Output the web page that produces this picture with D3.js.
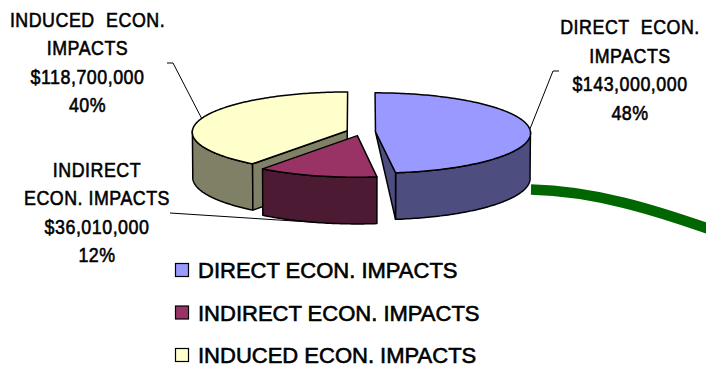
<!DOCTYPE html>
<html>
<head>
<meta charset="utf-8">
<script src="https://cdn.jsdelivr.net/npm/d3@7"></script>
<style>
  body { margin: 0; background: #fff; }
  svg { display: block; }
</style>
</head>
<body>
<svg id="chart" width="706" height="367"></svg>
<script>
// ---- data ----
const categories = ["DIRECT ECON. IMPACTS", "INDIRECT ECON. IMPACTS", "INDUCED ECON. IMPACTS"];
const values = [143000000, 36010000, 118700000];
const labelLines = [["DIRECT ECON.", "IMPACTS"], ["INDIRECT", "ECON. IMPACTS"], ["INDUCED ECON.", "IMPACTS"]];

// ---- styles ----
const topColors = ["#9999FF", "#993366", "#FFFFCC"];
const sideColors = ["#4D4D80", "#4D1A33", "#808066"];
const FONT = "'Liberation Sans', Arial, Helvetica, sans-serif";

// label boxes: centre x, first baseline, leader path from the text towards the pie
const labelLayout = [
  { x: 630, y: 34.5, wordGap: 7, leader: [[559, 71], [553, 71]], attach: "top" },
  { x: 97,  y: 177,  wordGap: 0, leader: [[170, 213]],           attach: "bottom" },
  { x: 87.5, y: 27,  wordGap: 7, leader: [[167, 63], [173, 63]], attach: "top" }
];

const svg = d3.select("#chart");

// ---- 3D pie geometry ----
const R = 155, H = 47, EXPLODE = 14.5;
const tilt = 15 * Math.PI / 180;
const DIST = 5000;
const ox = 361, oy = 132;

function project(X, Y, Z) {
  const yc = Y * Math.cos(tilt) + Z * Math.sin(tilt);
  const zc = Z * Math.cos(tilt) - Y * Math.sin(tilt);
  const k = DIST / (DIST + zc);
  return [ox + X * k, oy - yc * k];
}

const pie = d3.pie().sort(null).value(d => d);
const arcs = pie(values);

const slices = arcs.map((a, i) => {
  const mid = (a.startAngle + a.endAngle) / 2;
  return { i, a0: a.startAngle, a1: a.endAngle, mid,
           ex: EXPLODE * Math.sin(mid), ez: EXPLODE * Math.cos(mid) };
});

function pt(s, r, th, y) {
  return project(s.ex + r * Math.sin(th), y, s.ez + r * Math.cos(th));
}
function rim(s, from, to, y) {
  const n = Math.max(2, Math.ceil(Math.abs(to - from) / (Math.PI / 180)));
  return d3.range(n + 1).map(k => pt(s, R, from + (to - from) * k / n, y));
}

const line = d3.line();
const poly = p => line(p) + "Z";

// ---- leader lines (drawn beneath the pie) ----
const leaders = svg.append("g");
labelLayout.forEach((L, i) => {
  const s = slices[i];
  const end = pt(s, R, s.mid, L.attach === "top" ? 0 : -H);
  leaders.append("path")
    .attr("d", line(L.leader.concat([end])))
    .attr("fill", "none")
    .attr("stroke", "#000")
    .attr("stroke-width", 1);
});

// ---- slices, painted back to front ----
const pieG = svg.append("g")
  .attr("stroke", "#000")
  .attr("stroke-width", 1.5)
  .attr("stroke-linejoin", "round");

slices.slice().sort((a, b) => b.ez - a.ez).forEach(s => {
  const g = pieG.append("g");
  const c0 = pt(s, 0, 0, 0), c1 = pt(s, 0, 0, -H);

  // curved outer wall (front half only)
  const lo = Math.max(s.a0, Math.PI / 2), hi = Math.min(s.a1, 3 * Math.PI / 2);
  if (hi > lo) {
    g.append("path")
      .attr("d", poly(rim(s, lo, hi, 0).concat(rim(s, hi, lo, -H))))
      .attr("fill", sideColors[s.i]);
  }
  // radial cut faces facing the viewer
  if (Math.sin(s.a0) < -0.01) {
    g.append("path")
      .attr("d", poly([c0, pt(s, R, s.a0, 0), pt(s, R, s.a0, -H), c1]))
      .attr("fill", sideColors[s.i]);
  }
  if (Math.sin(s.a1) > 0.01) {
    g.append("path")
      .attr("d", poly([c0, pt(s, R, s.a1, 0), pt(s, R, s.a1, -H)]))
      .attr("fill", sideColors[s.i]);
  }
  // top face
  g.append("path")
    .attr("d", poly([c0].concat(rim(s, s.a0, s.a1, 0))))
    .attr("fill", topColors[s.i]);
});

// ---- decorative green swoosh ----
svg.append("path")
  .attr("d", "M531,189.5 C595,191 655,210 712,230")
  .attr("fill", "none")
  .attr("stroke", "#006600")
  .attr("stroke-width", 10.5);

// ---- data labels ----
const total = d3.sum(values);
const pct = d3.format(".0%");
const money = v => "$" + d3.format(",")(v);
const LINE_H = 28.5;

labelLayout.forEach((L, i) => {
  const lines = labelLines[i].concat([money(values[i]), pct(values[i] / total)]);
  const g = svg.append("g")
    .attr("transform", `translate(${L.x},0) scale(0.85,1)`)
    .attr("font-family", FONT)
    .attr("font-size", 21)
    .attr("text-anchor", "middle")
    .attr("fill", "#000")
    .attr("stroke", "#000")
    .attr("stroke-width", 0.6);
  lines.forEach((t, j) => {
    g.append("text")
      .attr("x", 0)
      .attr("y", L.y + j * LINE_H)
      .attr("word-spacing", L.wordGap)
      .attr("letter-spacing", 0.6)
      .text(t);
  });
});

// ---- legend ----
const legend = svg.append("g")
  .attr("font-family", FONT)
  .attr("font-size", 22);
const legendY = d3.scalePoint().domain(categories).range([278, 363]);
categories.forEach((c, i) => {
  const y = legendY(c);
  legend.append("rect")
    .attr("x", 175.5).attr("y", y - 14.5)
    .attr("width", 13).attr("height", 13)
    .attr("fill", topColors[i])
    .attr("stroke", "#000").attr("stroke-width", 1.2);
  legend.append("text")
    .attr("x", 198).attr("y", y)
    .attr("fill", "#000")
    .attr("stroke", "#000")
    .attr("stroke-width", 0.6)
    .text(c);
});
</script>
</body>
</html>
